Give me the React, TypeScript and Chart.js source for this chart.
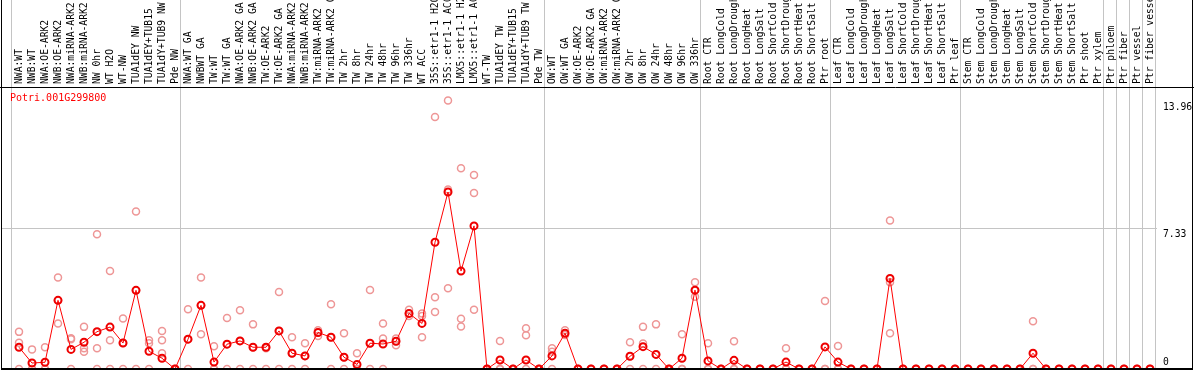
import React, { useEffect, useRef } from "react";
import { Chart, registerables } from "chart.js";

Chart.register(...registerables);

const GENE = "Potri.001G299800";

const categories = [
  "NWA:WT", "NWB:WT", "NWA:OE-ARK2", "NWB:OE-ARK2", "NWA:miRNA-ARK2", "NWB:miRNA-ARK2",
  "NW 0hr", "WT H2O", "WT-NW", "TUA1dEY NW", "TUA1dEY+TUB15", "TUA1dY+TUB9 NW", "Pde NW",
  "NWA:WT GA", "NWBWT GA", "TW:WT", "TW:WT GA", "NWA:OE-ARK2 GA", "NWB:OE-ARK2 GA",
  "TW:OE-ARK2", "TW:OE-ARK2 GA", "NWA:miRNA-ARK2 GA", "NWB:miRNA-ARK2 GA", "TW:miRNA-ARK2",
  "TW:miRNA-ARK2 GA", "TW 2hr", "TW 8hr", "TW 24hr", "TW 48hr", "TW 96hr", "TW 336hr",
  "WT ACC", "35S::etr1-1 H2O", "35S::etr1-1 ACC", "LMX5::etr1-1 H2O", "LMX5::etr1-1 ACC",
  "WT-TW", "TUA1dEY TW", "TUA1dEY+TUB15", "TUA1dY+TUB9 TW", "Pde TW",
  "OW:WT", "OW:WT GA", "OW:OE-ARK2", "OW:OE-ARK2 GA", "OW:miRNA-ARK2", "OW:miRNA-ARK2 GA",
  "OW 2hr", "OW 8hr", "OW 24hr", "OW 48hr", "OW 96hr", "OW 336hr",
  "Root CTR", "Root LongCold", "Root LongDrought", "Root LongHeat", "Root LongSalt",
  "Root ShortCold", "Root ShortDrought", "Root ShortHeat", "Root ShortSalt", "Ptr root",
  "Leaf CTR", "Leaf LongCold", "Leaf LongDrought", "Leaf LongHeat", "Leaf LongSalt",
  "Leaf ShortCold", "Leaf ShortDrought", "Leaf ShortHeat", "Leaf ShortSalt", "Ptr leaf",
  "Stem CTR", "Stem LongCold", "Stem LongDrought", "Stem LongHeat", "Stem LongSalt",
  "Stem ShortCold", "Stem ShortDrought", "Stem ShortHeat", "Stem ShortSalt",
  "Ptr shoot", "Ptr xylem", "Ptr phloem", "Ptr fiber", "Ptr vessel", "Ptr fiber vessel",
];

const means = [
  1.13, 0.31, 0.35, 3.57, 1.02, 1.39, 1.94, 2.18, 1.35, 4.09, 0.92, 0.56, 0,
  1.55, 3.31, 0.36, 1.29, 1.46, 1.13, 1.13, 1.98, 0.82, 0.68, 1.9, 1.65, 0.61, 0.24,
  1.34, 1.3, 1.44, 2.89, 2.37, 6.59, 9.2, 5.09, 7.44, 0, 0.47, 0, 0.47, 0,
  0.68, 1.86, 0, 0, 0, 0, 0.66, 1.16, 0.76, 0, 0.56, 4.1,
  0.42, 0, 0.45, 0, 0, 0, 0.36, 0, 0, 1.15,
  0.36, 0, 0, 0, 4.71, 0, 0, 0, 0, 0,
  0, 0, 0, 0, 0, 0.82, 0, 0, 0, 0,
  0, 0, 0, 0, 0,
];

const rep1 = [
  1.93, 1.02, 1.13, 4.76, 1.6, 2.19, 7.0, 5.09, 2.63, 8.19, 1.49, 1.97, 0,
  3.1, 4.76, 1.18, 2.65, 3.05, 2.32, 1.08, 4.0, 1.65, 1.34, 2.02, 3.36, 1.86, 0.82,
  4.11, 2.37, 1.58, 3.08, 2.89, 13.1, 13.96, 10.44, 10.08, 0, 1.46, 0, 2.12, 0,
  1.08, 2.02, 0, 0, 0, 0, 1.39, 2.19, 2.32, 0, 1.81, 4.51,
  1.34, 0, 1.44, 0, 0, 0, 1.08, 0, 0, 3.54,
  1.2, 0, 0, 0, 7.72, 0, 0, 0, 0, 0,
  0, 0, 0, 0, 0, 2.48, 0, 0, 0, 0,
  0, 0, 0, 0, 0,
];

const rep2 = [
  1.37, 0, 0, 2.37, 1.55, 1.08, 1.08, 1.49, 1.35, 4.09, 1.34, 1.49, 0,
  1.55, 1.81, 0, 1.29, 1.46, 1.13, 1.13, 1.98, 0.82, 0.68, 1.72, 1.65, 0.61, 0,
  1.34, 1.58, 1.23, 2.76, 2.75, 3.73, 9.33, 2.61, 9.15, 0, 0, 0, 1.75, 0,
  0.9, 1.77, 0, 0, 0, 0, 0.66, 1.32, 0.76, 0, 0, 3.75,
  0, 0, 0, 0, 0, 0, 0, 0, 0, 0,
  0, 0, 0, 0, 4.51, 0, 0, 0, 0, 0,
  0, 0, 0, 0, 0, 0, 0, 0, 0, 0,
  0, 0, 0, 0, 0,
];

const rep3 = [
  0, 0, 0, 3.57, 0, 0.9, 0, 0, 0, 0, 0, 0.82, 0,
  0, 3.31, 0, 0, 0, 0, 0, 0, 0, 0, 1.9, 0, 0, 0,
  0, 0, 1.44, 2.89, 1.65, 2.96, 4.2, 2.21, 3.08, 0, 0, 0, 0, 0,
  0, 1.86, 0, 0, 0, 0, 0, 0, 0, 0, 0, 4.1,
  0, 0, 0, 0, 0, 0, 0, 0, 0, 0,
  0, 0, 0, 0, 1.86, 0, 0, 0, 0, 0,
  0, 0, 0, 0, 0, 0, 0, 0, 0, 0,
  0, 0, 0, 0, 0,
];

// group separators: drawn after these category indices
const groupEnds = [-1, 12, 40, 52, 62, 72, 83, 84, 85, 86, 87];
const yMax = 14.66;
const yLabels = [13.96, 7.33, 0];
const yGridValues = [7.33];

const X_MIN = -1.385;
const X_MAX = 90.23;

const MONO = "'DejaVu Sans Mono', 'Liberation Mono', monospace";

const toPoints = (arr: number[]) => arr.map((v, i) => ({ x: i, y: v }));

const framePlugin = {
  id: "frame",
  beforeDatasetsDraw(chart: any) {
    const { ctx, chartArea, scales } = chart;
    const xs = scales.x;
    const ys = scales.y;
    ctx.save();
    ctx.strokeStyle = "#c4c4c4";
    ctx.lineWidth = 1;
    groupEnds.forEach((g) => {
      const px = Math.round(xs.getPixelForValue(g + 0.42)) + 0.5;
      ctx.beginPath();
      ctx.moveTo(px, 0);
      ctx.lineTo(px, chartArea.bottom);
      ctx.stroke();
    });
    yGridValues.forEach((v) => {
      const py = Math.round(ys.getPixelForValue(v)) + 0.5;
      ctx.beginPath();
      ctx.moveTo(chartArea.left, py);
      ctx.lineTo(chartArea.right - 35, py);
      ctx.stroke();
    });
    ctx.restore();
  },
  afterDraw(chart: any) {
    const { ctx, chartArea, scales, width, height } = chart;
    const ys = scales.y;
    ctx.save();
    ctx.strokeStyle = "#000";
    ctx.lineWidth = 1;
    ctx.beginPath();
    ctx.moveTo(chartArea.left + 0.5, 0);
    ctx.lineTo(chartArea.left + 0.5, height);
    ctx.moveTo(chartArea.right + 0.5, 0);
    ctx.lineTo(chartArea.right + 0.5, height);
    ctx.moveTo(0, chartArea.top + 0.5);
    ctx.lineTo(width, chartArea.top + 0.5);
    ctx.stroke();
    ctx.lineWidth = 2;
    ctx.beginPath();
    ctx.moveTo(chartArea.left, chartArea.bottom);
    ctx.lineTo(chartArea.right + 1, chartArea.bottom);
    ctx.stroke();

    ctx.fillStyle = "#000";
    ctx.font = `9.7px ${MONO}`;
    ctx.textAlign = "left";
    ctx.textBaseline = "top";
    yLabels.forEach((v) => {
      let py = ys.getPixelForValue(v) + 2;
      if (py > chartArea.bottom - 12) py = chartArea.bottom - 11;
      ctx.fillText(String(v), chartArea.right - 29, py);
    });

    ctx.fillStyle = "#ff0000";
    ctx.font = `10px ${MONO}`;
    ctx.textBaseline = "alphabetic";
    ctx.fillText(GENE, chartArea.left + 9, chartArea.top + 14);
    ctx.restore();
  },
};

export default function App() {
  const canvasRef = useRef<HTMLCanvasElement | null>(null);

  useEffect(() => {
    const canvas = canvasRef.current;
    if (!canvas) return;
    const pale = "rgb(238,150,150)";
    const repDataset = (arr: number[]) => ({
      data: toPoints(arr),
      showLine: false,
      borderColor: pale,
      backgroundColor: "rgba(0,0,0,0)",
      pointRadius: 3.5,
      pointBorderWidth: 1.5,
      pointBorderColor: pale,
      pointBackgroundColor: "rgba(0,0,0,0)",
      order: 2,
    });
    const chart = new Chart(canvas, {
      type: "line",
      data: {
        datasets: [
          {
            data: toPoints(means),
            borderColor: "#ff0000",
            borderWidth: 1,
            backgroundColor: "rgba(0,0,0,0)",
            pointRadius: 3.5,
            pointBorderWidth: 2,
            pointBorderColor: "#ee0000",
            pointBackgroundColor: "rgba(0,0,0,0)",
            fill: false,
            tension: 0,
            order: 1,
          },
          repDataset(rep1),
          repDataset(rep2),
          repDataset(rep3),
        ],
      },
      options: {
        animation: false,
        responsive: true,
        maintainAspectRatio: false,
        devicePixelRatio: 1,
        layout: { autoPadding: false, padding: { left: 1, right: 2, top: 0, bottom: 1 } },
        plugins: { legend: { display: false }, tooltip: { enabled: false } },
        events: [],
        scales: {
          x: {
            type: "linear",
            position: "top",
            min: X_MIN,
            max: X_MAX,
            grid: { display: false, drawTicks: false },
            border: { display: false },
            afterBuildTicks: (s: any) => {
              s.ticks = categories.map((_, i) => ({ value: i }));
            },
            afterFit: (s: any) => {
              s.height = 87;
              s.paddingLeft = 0;
              s.paddingRight = 0;
            },
            ticks: {
              autoSkip: false,
              minRotation: 90,
              maxRotation: 90,
              mirror: true,
              padding: -3,
              color: "#000",
              font: { family: MONO, size: 9.7 },
              callback: (v: any) => categories[v as number] ?? "",
            },
          },
          y: { display: false, min: 0, max: yMax },
        },
      },
      plugins: [framePlugin],
    });
    return () => chart.destroy();
  }, []);

  return (
    <div style={{ position: "fixed", left: 0, top: 0, width: 1194, height: 370, background: "#fff" }}>
      <canvas ref={canvasRef} />
    </div>
  );
}
